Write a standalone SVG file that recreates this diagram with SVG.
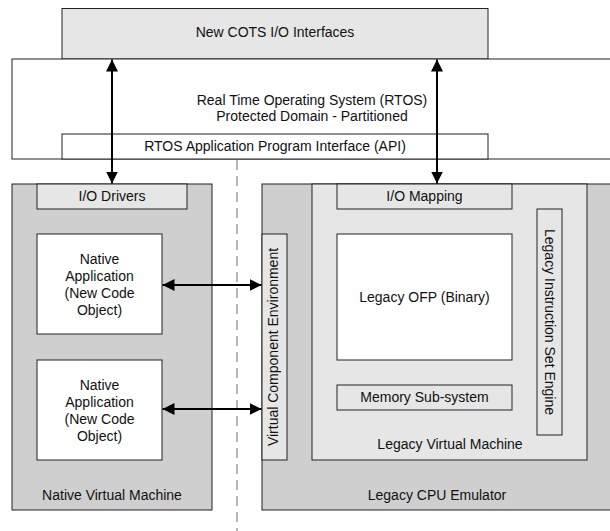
<svg xmlns="http://www.w3.org/2000/svg" width="610" height="531" viewBox="0 0 610 531">
  <style>
    .box { stroke: #222; stroke-width: 1; }
    .light { fill: #e6e6e6; }
    .mid { fill: #cfcfcf; }
    .white { fill: #ffffff; }
    text { font-family: "Liberation Sans", Arial, sans-serif; font-size: 14px; fill: #111; text-anchor: middle; }
    .link { stroke: #000; stroke-width: 2; fill: none; marker-start: url(#head); marker-end: url(#head); }
    .divider { stroke: #a0a0a0; stroke-width: 1.5; stroke-dasharray: 10 6; fill: none; }
  </style>
  <defs>
    <marker id="head" viewBox="0 0 12 12" refX="12" refY="6" markerWidth="12" markerHeight="12" markerUnits="userSpaceOnUse" orient="auto-start-reverse">
      <path d="M0,0 L12,6 L0,12 Z" fill="#000"/>
    </marker>
  </defs>

  <rect width="610" height="531" fill="#ffffff"/>

  <!-- partition divider -->
  <line class="divider" x1="237" y1="160" x2="237" y2="531"/>

  <g id="cots">
    <rect class="box light" x="62" y="8.5" width="426" height="50.5"/>
    <text x="275" y="37">New COTS I/O Interfaces</text>
  </g>

  <g id="rtos">
    <rect class="box white" x="12" y="59" width="600" height="100"/>
    <text x="312" y="105">Real Time Operating System (RTOS)</text>
    <text x="312" y="121">Protected Domain - Partitioned</text>
  </g>

  <g id="api">
    <rect class="box white" x="62" y="134" width="426" height="25"/>
    <text x="275" y="151">RTOS Application Program Interface (API)</text>
  </g>

  <g id="native-vm">
    <rect class="box mid" x="12" y="184" width="200" height="326"/>
    <text x="112" y="500">Native Virtual Machine</text>
  </g>

  <g id="io-drivers">
    <rect class="box light" x="37" y="184" width="150" height="25"/>
    <text x="112" y="201">I/O Drivers</text>
  </g>

  <g id="native-app-1">
    <rect class="box white" x="37" y="234" width="125" height="100"/>
    <text x="99.5" y="264">Native</text>
    <text x="99.5" y="281">Application</text>
    <text x="99.5" y="298">(New Code</text>
    <text x="99.5" y="315">Object)</text>
  </g>

  <g id="native-app-2">
    <rect class="box white" x="37" y="360" width="125" height="100"/>
    <text x="99.5" y="390">Native</text>
    <text x="99.5" y="407">Application</text>
    <text x="99.5" y="424">(New Code</text>
    <text x="99.5" y="441">Object)</text>
  </g>

  <g id="cpu-emulator">
    <rect class="box mid" x="262" y="184" width="350" height="326"/>
    <text x="437" y="500">Legacy CPU Emulator</text>
  </g>

  <g id="vce">
    <rect class="box light" x="262" y="234" width="25" height="226"/>
    <text transform="translate(278,347) rotate(-90)">Virtual Component Environment</text>
  </g>

  <g id="legacy-vm">
    <rect class="box light" x="312" y="184" width="275" height="276"/>
    <text x="450" y="449">Legacy Virtual Machine</text>
  </g>

  <g id="io-mapping">
    <rect class="box light" x="337" y="184" width="175" height="25"/>
    <text x="424.5" y="201">I/O Mapping</text>
  </g>

  <g id="legacy-ofp">
    <rect class="box white" x="337" y="234" width="175" height="126"/>
    <text x="424.5" y="302">Legacy OFP (Binary)</text>
  </g>

  <g id="memory">
    <rect class="box light" x="337" y="385" width="175" height="25"/>
    <text x="424.5" y="402">Memory Sub-system</text>
  </g>

  <g id="isa-engine">
    <rect class="box light" x="537" y="209" width="25" height="226"/>
    <text transform="translate(545,322) rotate(90)">Legacy Instruction Set Engine</text>
  </g>

  <g id="connectors">
    <line class="link" x1="112" y1="59.5" x2="112" y2="183.5"/>
    <line class="link" x1="437" y1="59.5" x2="437" y2="183.5"/>
    <line class="link" x1="162.5" y1="285" x2="261.5" y2="285"/>
    <line class="link" x1="162.5" y1="409" x2="261.5" y2="409"/>
  </g>
</svg>
